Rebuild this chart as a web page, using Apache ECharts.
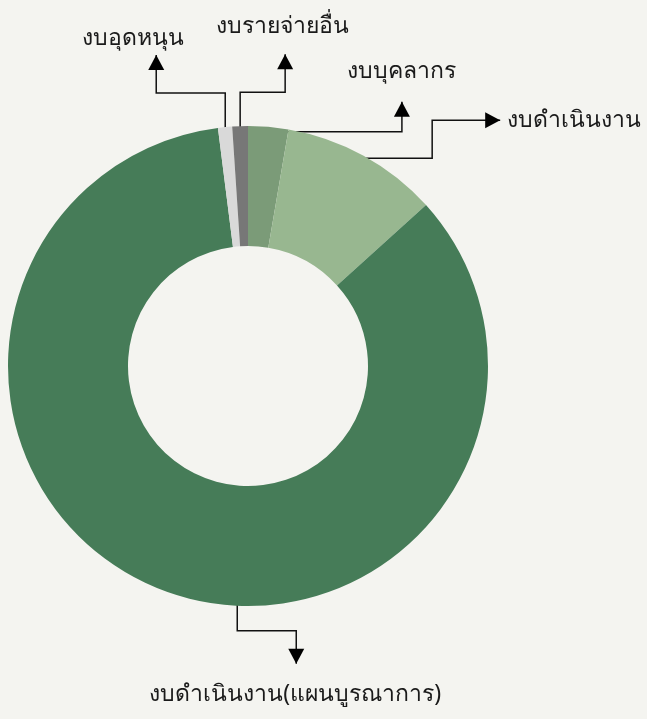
<!DOCTYPE html>
<html>
<head>
<meta charset="utf-8">
<script src="https://cdn.jsdelivr.net/npm/echarts@6/dist/echarts.min.js"></script>
<style>
  html, body { margin: 0; padding: 0; background: #f4f4f0; }
  #budgetPie { width: 647px; height: 719px; }
</style>
</head>
<body>
<div id="budgetPie"></div>
<script>
// budget categories, clockwise from 12 o'clock
const names = ['งบบุคลากร', 'งบดำเนินงาน', 'งบดำเนินงาน(แผนบูรณาการ)', 'งบอุดหนุน', 'งบรายจ่ายอื่น'];
const values = [2.7, 10.6, 84.7, 0.95, 1.05];
const colors = ['#7b9b78', '#98b790', '#467c58', '#d9d9d9', '#777777'];

const cx = 248, cy = 366, rIn = 120, rOut = 240;

// leader line routes (offsets from anchor), arrow direction, label offset from tip
const routes = [
  { r: 235, path: [[134, 0], [134, -30]], dir: 'up', lx: 0, ly: -30, align: 'center' },
  { r: 237, path: [[70, 0], [70, -38], [138, -38]], dir: 'right', lx: 7, ly: 0, align: 'left' },
  { r: 237, angle: 182.6, path: [[0, 28], [59, 28], [59, 61]], dir: 'down', lx: -1, ly: 31, align: 'center' },
  { r: 238, path: [[0, -36], [-69, -36], [-69, -74]], dir: 'up', lx: -23, ly: -17, align: 'center' },
  { r: 238, path: [[0, -36], [45, -36], [45, -74]], dir: 'up', lx: -3, ly: -28, align: 'center' }
];

const total = values.reduce((a, b) => a + b, 0);
let cum = 0;
const layouts = values.map((v, i) => {
  const mid = (cum + v / 2) / total * 360;
  cum += v;
  const R = routes[i];
  const ang = (R.angle !== undefined ? R.angle : mid) * Math.PI / 180;
  const ax = cx + R.r * Math.sin(ang);
  const ay = cy - R.r * Math.cos(ang);
  const pts = [[ax, ay]].concat(R.path.map(p => [ax + p[0], ay + p[1]]));
  const tip = pts[pts.length - 1];
  return { pts, tip, R };
});

function arrowHead(tip, dir) {
  const L = 15, w = 8;
  const [x, y] = tip;
  if (dir === 'up') return [[x, y], [x - w, y + L], [x + w, y + L]];
  if (dir === 'down') return [[x, y], [x - w, y - L], [x + w, y - L]];
  return [[x, y], [x - L, y - w], [x - L, y + w]];
}

const arrows = layouts.map(l => ({
  type: 'polygon',
  shape: { points: arrowHead(l.tip, l.R.dir) },
  style: { fill: '#000' },
  z: 100
}));

const option = {
  backgroundColor: '#f4f4f0',
  animation: false,
  graphic: arrows,
  series: [
    {
      name: 'งบประมาณ',
      type: 'pie',
      center: [cx, cy],
      radius: [rIn, rOut],
      startAngle: 90,
      clockwise: true,
      data: names.map((n, i) => ({ name: n, value: values[i], itemStyle: { color: colors[i] } })),
      label: {
        show: true,
        formatter: '{b}',
        color: '#1a1a1a',
        fontSize: 23,
        overflow: 'none',
        fontFamily: 'Noto Sans, DejaVu Sans, sans-serif'
      },
      labelLine: {
        show: true,
        showAbove: true,
        lineStyle: { color: '#111', width: 1.5 }
      },
      labelLayout: function (params) {
        const l = layouts[params.dataIndex];
        return {
          x: l.tip[0] + l.R.lx,
          y: l.tip[1] + l.R.ly,
          align: l.R.align,
          verticalAlign: 'middle',
          labelLinePoints: l.pts
        };
      }
    }
  ]
};

const chart = echarts.init(document.getElementById('budgetPie'));
chart.setOption(option);
</script>
</body>
</html>
